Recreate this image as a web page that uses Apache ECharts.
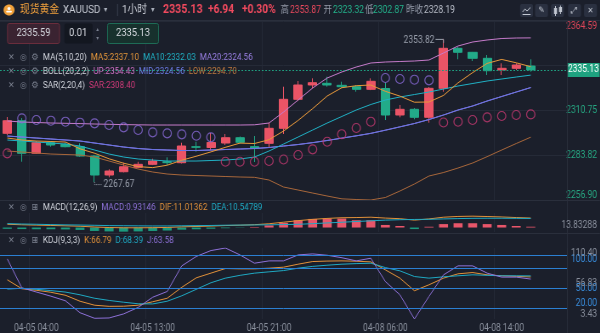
<!DOCTYPE html>
<html lang="zh-CN">
<head>
<meta charset="utf-8">
<title>现货黄金 XAUUSD 1小时</title>
<script src="https://cdn.jsdelivr.net/npm/echarts@6.0.0/dist/echarts.min.js"></script>
<style>
  html, body { margin: 0; padding: 0; background: #1b1f2b; overflow: hidden; width: 600px; height: 333px; }
  /* the terminal UI uses a condensed face: the chart is laid out wider and compressed horizontally */
  #chart { width: 706px; height: 333px; transform: scaleX(0.85); transform-origin: 0 0; }
</style>
</head>
<body>
<div id="chart"></div>
<script>
// ---------- data (hourly bars) ----------
const times = [
  '04-05 02:00','04-05 03:00','04-05 04:00','04-05 06:00','04-05 07:00','04-05 08:00','04-05 09:00',
  '04-05 10:00','04-05 11:00','04-05 12:00','04-05 13:00','04-05 14:00','04-05 15:00','04-05 16:00',
  '04-05 17:00','04-05 18:00','04-05 19:00','04-05 20:00','04-05 21:00','04-05 22:00','04-05 23:00',
  '04-06 00:00','04-06 01:00','04-06 02:00','04-06 03:00','04-06 04:00',
  '04-08 06:00','04-08 07:00','04-08 08:00','04-08 09:00','04-08 10:00','04-08 11:00','04-08 12:00',
  '04-08 13:00','04-08 14:00','04-08 15:00','04-08 16:00'
];
// [open, close, low, high]
const candles = [
  [2297.02,2304.60,2296.00,2306.83],[2304.60,2284.99,2279.93,2306.20],[2284.99,2291.36,2284.60,2292.40],
  [2291.36,2289.98,2288.96,2292.20],[2290.40,2288.96,2288.60,2291.36],[2288.96,2283.36,2283.00,2291.00],
  [2283.36,2271.93,2267.67,2284.00],[2271.93,2274.34,2270.54,2275.40],[2273.91,2276.92,2273.50,2279.33],
  [2276.56,2278.37,2276.00,2279.90],[2278.37,2280.35,2277.90,2281.74],[2279.93,2279.33,2277.94,2282.58],
  [2279.33,2289.38,2278.90,2291.36],[2288.96,2288.60,2285.95,2291.96],[2288.48,2291.48,2286.97,2297.20],
  [2291.18,2294.37,2290.00,2296.60],[2294.37,2291.60,2290.90,2295.10],[2289.00,2288.20,2279.75,2295.40],
  [2291.00,2300.03,2288.60,2303.40],[2300.03,2317.48,2296.60,2325.06],[2317.48,2326.08,2316.50,2328.49],
  [2326.08,2327.46,2324.10,2330.11],[2327.10,2326.08,2325.06,2331.07],[2325.90,2325.06,2324.50,2328.07],
  [2325.06,2323.49,2322.05,2326.08],[2323.49,2328.31,2323.00,2330.11],[2323.98,2308.03,2305.02,2327.46],
  [2308.03,2311.46,2306.65,2314.05],[2311.46,2306.65,2305.44,2312.20],[2306.65,2324.10,2303.40,2324.90],
  [2324.10,2348.16,2322.05,2353.82],[2348.16,2345.76,2341.55,2349.00],[2345.76,2342.15,2340.52,2346.00],
  [2342.15,2334.68,2332.10,2344.13],[2335.11,2336.13,2332.10,2339.14],[2336.13,2338.12,2335.10,2339.14],
  [2337.52,2335.13,2334.08,2341.55]
];
const ma5 = [2294.19,2292.99,2292.39,2292.09,2291.78,2287.69,2285.05,2281.68,2279.03,2276.98,2276.38,2277.83,
  2280.83,2283.24,2285.83,2288.59,2291.12,2290.88,2293.17,2298.40,2304.78,2311.88,2319.46,2324.46,2325.66,
  2326.08,2322.29,2319.40,2315.73,2315.85,2319.82,2327.40,2333.54,2339.08,2341.48,2339.44,2337.10];
const ma10 = [2292.99,2292.39,2291.78,2291.18,2290.58,2289.38,2286.97,2284.56,2282.76,2281.56,2280.95,2280.35,
  2280.35,2280.35,2280.65,2280.95,2281.56,2282.76,2286.37,2290.58,2294.79,2299.00,2303.20,2307.13,2311.04,
  2314.35,2317.06,2318.86,2320.36,2321.87,2323.67,2325.48,2326.98,2328.49,2329.69,2330.89,2332.03];
const bollMid = [2295.39,2294.79,2294.19,2293.59,2292.99,2292.39,2291.18,2289.98,2288.77,2287.87,2287.27,2286.97,
  2286.67,2286.67,2286.97,2287.27,2287.57,2287.87,2288.47,2289.38,2290.28,2291.40,2292.70,2294.10,2295.50,
  2297.00,2298.90,2300.90,2302.92,2305.32,2308.03,2311.04,2313.45,2316.45,2319.16,2321.86,2324.56];
const ma20 = bollMid.slice(); // MA20 is the Bollinger middle band
const bollUp = [2304.42,2303.82,2303.52,2303.22,2303.04,2302.86,2302.62,2302.44,2302.25,2302.13,2302.01,2302.01,
  2302.01,2302.01,2302.01,2302.01,2302.01,2302.13,2303.22,2309.83,2317.06,2324.28,2330.29,2333.90,2336.91,
  2339.32,2339.92,2340.22,2340.52,2341.12,2345.34,2349.55,2351.95,2353.16,2354.06,2354.36,2354.43];
const bollLow = [2286.37,2285.77,2285.17,2284.56,2284.26,2283.96,2282.76,2280.35,2277.94,2275.54,2273.73,2272.53,
  2271.93,2271.63,2271.33,2271.03,2270.73,2270.54,2268.92,2264.71,2262.90,2261.09,2259.29,2257.60,2257.20,
  2256.90,2258.40,2262.30,2266.52,2271.33,2273.43,2276.14,2279.15,2282.98,2286.97,2290.88,2294.70];
const sar = [2284.99,2306.05,2305.02,2304.60,2304.00,2303.40,2303.04,2302.01,2300.63,2299.00,2297.62,2297.02,
  2296.42,2295.57,2294.61,2279.93,2279.93,2279.93,2280.35,2281.26,2283.96,2287.39,2291.96,2296.48,2300.21,
  2304.00,2330.29,2329.69,2329.27,2328.91,2303.52,2304.00,2305.02,2306.65,2307.43,2308.03,2308.40];
const macdHist = [-1.5,-1.8,-2.0,-2.0,-2.2,-2.8,-4.0,-4.5,-4.8,-4.5,-4.0,-3.5,-2.5,-2.0,-1.4,-0.8,-0.3,0.6,2.5,
  5.5,8.5,10.0,10.5,10.5,8.5,8.5,3.0,1.8,-1.8,0.9,4.0,5.0,5.0,4.0,3.0,1.8,0.93146];
const dif = [3.8,3.2,2.8,2.4,2.0,1.5,0.6,0.0,-0.3,-0.3,-0.2,0.1,0.8,1.2,1.7,2.3,2.7,3.3,4.4,6.2,8.0,9.5,10.6,
  11.4,11.6,12.0,11.0,10.3,8.6,10.0,12.0,12.9,13.2,12.8,12.3,11.6,11.01362];
const dea = [4.55,4.1,3.8,3.4,3.1,2.9,2.6,2.25,2.1,1.95,1.8,1.85,2.05,2.2,2.4,2.7,2.85,3.0,3.15,3.45,3.75,4.5,
  5.35,6.15,7.0,7.8,8.6,9.1,9.4,9.55,10.0,10.4,10.7,10.8,10.8,10.7,10.54789];
const kLine = [62.5,49,46.7,43.7,39.2,30.2,24.2,22.5,22.7,24.2,29.4,34.7,51.2,65.5,72.5,79.5,79,79,80,81.5,86,
  90,90.7,91,90.5,89.5,77.5,65,46,55,65,71.5,73.4,70,68.5,67.7,66.79];
const dLine = [48.5,49.7,48.2,46.2,44,39.9,34.7,31.4,28.7,26.4,26.1,30.2,38.4,48.2,58,65,69.2,72.5,74.5,76.4,80,
  82.7,84.5,86,86.9,87.5,80.9,76,67.4,65,67,68.5,70,69.2,68.5,68.5,68.39];
const jLine = [94,50.4,44.1,37.8,30.9,12.9,4.5,5.0,11.1,20.9,36.2,44.9,83.5,97.7,106.5,110.4,100,87.5,91,91,100,
  101.5,99.5,95.8,91,95,59.9,39.9,3.43,37.4,70,83.5,83.5,72.5,66.5,66.5,63.58];

// axis ticks
const priceTicks = [2256.90, 2283.82, 2310.75, 2337.67, 2364.59];
const priceLabels = [2256.90, 2283.82, 2310.75, 2364.59];
const macdRange = [-5.2, 16.9];
const macdAxisLabel = '13.83288';
const kdjRange = [3.43, 110.40];
const kdjLevels = [20, 50, 80, 100];
const kdjMarks = [3.43, 56.83, 110.40];

// ---------- layout helpers ----------
const SX = 0.85;                 // horizontal compression applied to #chart
const X = (v) => v / SX;          // screen x -> chart x

const FONT = "Roboto,'Noto Sans',sans-serif";
const CJK = "Roboto,'Noto Sans CJK SC',sans-serif";
const SYM = "'DejaVu Sans',sans-serif";
const UP = '#ea5466', DOWN = '#22ab89';
const C = {
  ma5: '#e8993b', ma10: '#21b2c6', ma20: '#9a80e4',
  up: '#c77ccc', mid: '#6873e4', low: '#a9683c',
  sarUp: '#c43a72', sarDown: '#8a6ad8',
  dif: '#e3923a', dea: '#1faac4', macd: '#8f72da',
  k: '#e3923a', d: '#1faac4', j: '#8f72da',
  grid: '#252a37', label: '#8a909d'
};

const n = candles.length;
const lastClose = candles[n - 1][1];
const xData = times.concat(['', '']); // room right of the last bar
const labelEvery = (i) => i >= 2 && (i - 2) % 8 === 0;

function xAxis(gridIndex, showLabel) {
  return {
    type: 'category', gridIndex, data: xData, boundaryGap: true,
    axisLine: { show: false }, axisTick: { show: false },
    axisLabel: { show: showLabel, interval: (i) => labelEvery(i), color: C.label,
      fontSize: 10, fontFamily: FONT, margin: 4 },
    splitLine: { show: true, interval: (i) => labelEvery(i), lineStyle: { color: C.grid, width: 1 } }
  };
}

function line(name, data, color, xi, yi, z) {
  return { name, type: 'line', data, xAxisIndex: xi, yAxisIndex: yi, symbol: 'none',
    lineStyle: { color, width: 1 }, itemStyle: { color }, z: z || 3, silent: true };
}

const chart = echarts.init(document.getElementById('chart'), null, { renderer: 'canvas' });

// ---------- page chrome (header, inputs, indicator legends) ----------
const measureCtx = document.createElement('canvas').getContext('2d');
function textWidth(s, font) { measureCtx.font = font; return measureCtx.measureText(s).width * SX; }

function txt(x, y, s, fill, size, family, weight, align) {
  return { type: 'text', x: X(x), y, silent: true, z: 100,
    style: { text: s, fill, font: (weight || 'normal') + ' ' + size + 'px ' + family,
      align: align || 'left', verticalAlign: 'middle', textAlign: align || 'left', textVerticalAlign: 'middle' } };
}
function rect(x, y, w, h, fill, stroke, r) {
  return { type: 'rect', silent: true, z: 99, shape: { x: X(x), y, width: X(w), height: h, r: r || 0 },
    style: { fill, stroke: stroke || null, lineWidth: stroke ? 1 : 0 } };
}
function seg(x1, y1, x2, y2, stroke, dash) {
  return { type: 'line', silent: true, z: 99, shape: { x1: X(x1), y1, x2: X(x2), y2 },
    style: { stroke, lineWidth: 1, lineDash: dash || null } };
}
// a run of coloured text items laid out left to right
function row(y, items, startX, size, gap) {
  const out = [];
  let x = startX;
  items.forEach(([s, color]) => {
    out.push(txt(x, y, s, color, size, FONT));
    x += textWidth(s, 'normal ' + size + 'px ' + FONT) + gap;
  });
  return out;
}

const fmt2 = (v) => v.toFixed(2);
const chrome = [
  // panel separators
  seg(0, 20.5, 600, 20.5, '#2a2f3c'),
  seg(0, 200.5, 600, 200.5, '#2a2f3c'),
  seg(0, 233.5, 600, 233.5, '#2a2f3c'),
  seg(567.5, 20, 567.5, 333, '#2a2f3c'),
  // header
  { type: 'ellipse', silent: true, z: 99, shape: { cx: X(9), cy: 10, rx: X(5.5), ry: 5.5 }, style: { fill: '#f1a13a' } },
  { type: 'ellipse', silent: true, z: 100, shape: { cx: X(9), cy: 8.6, rx: X(1.6), ry: 1.6 }, style: { fill: '#fff' } },
  { type: 'rect', silent: true, z: 100, shape: { x: X(6.2), y: 10.8, width: X(5.6), height: 1.8, r: 0.8 }, style: { fill: '#fff' } },
  txt(20, 10, '现货黄金', '#f3a23d', 11.5, CJK),
  txt(63, 10, 'XAUUSD', '#c9cdd6', 11.5, FONT),
  txt(104, 10, '▾', '#aab0bc', 8, SYM),
  seg(117.5, 4, 117.5, 16, '#3b4150'),
  txt(122, 10, '1小时', '#c9cdd6', 11.5, CJK),
  txt(151, 10, '▾', '#aab0bc', 8, SYM),
  txt(163, 10, fmt2(lastClose), '#f04a5e', 12.5, FONT, 'bold'),
  txt(208, 10, '+6.94', '#f04a5e', 12, FONT, 'bold'),
  txt(242, 10, '+0.30%', '#f04a5e', 12, FONT, 'bold'),
  txt(280.5, 10, '高', '#959baa', 10, CJK),
  txt(290, 10, '2353.87', '#ef4a5e', 10, FONT),
  txt(323.5, 10, '开', '#959baa', 10, CJK),
  txt(333, 10, '2323.32', '#24b38c', 10, FONT),
  txt(365, 10, '低', '#959baa', 10, CJK),
  txt(373, 10, '2302.87', '#24b38c', 10, FONT),
  txt(406, 10, '昨收', '#959baa', 10, CJK),
  txt(424, 10, '2328.19', '#b7bcc7', 10, FONT),
  // toolbar buttons
  rect(520, 4, 13, 13, '#2a3040', null, 2), rect(535, 4, 13, 13, '#2a3040', null, 2),
  rect(551, 4, 13, 13, '#2a3040', null, 2), rect(568, 4, 13, 13, '#2a3040', null, 2),
  rect(584, 4, 13, 13, '#2a3040', null, 2),
  { type: 'polyline', silent: true, z: 100, shape: { points: [[X(522.5), 12], [X(525), 9], [X(527), 11], [X(530.5), 7.5]] },
    style: { stroke: '#c3c8d2', lineWidth: 1, fill: null } },
  seg(522.5, 14.5, 530.5, 14.5, '#c3c8d2'),
  txt(541.5, 10.5, '✎', '#c3c8d2', 9, SYM, 'normal', 'center'),
  rect(554, 8, 3, 6, '#c3c8d2'), seg(555.5, 6, 555.5, 16, '#c3c8d2'),
  rect(559, 7, 3, 5, '#c3c8d2'), seg(560.5, 5.5, 560.5, 14, '#c3c8d2'),
  txt(574.5, 10.5, '⤢', '#c3c8d2', 9, SYM, 'normal', 'center'),
  txt(590.5, 10.5, '✕', '#c3c8d2', 8, SYM, 'normal', 'center'),
  // order inputs
  rect(7.5, 23.5, 52, 20, '#3a2331', '#6a2d3c', 2),
  txt(33.5, 33.5, '2335.59', '#d8dbe2', 11, FONT, 'normal', 'center'),
  rect(64.5, 23.5, 28, 20, '#131720', null, 2),
  txt(69, 33.5, '0.01', '#d8dbe2', 11, FONT),
  txt(97.5, 29, '▴', '#7d8392', 6, SYM, 'normal', 'center'),
  txt(97.5, 38.5, '▾', '#7d8392', 6, SYM, 'normal', 'center'),
  rect(107.5, 23.5, 51, 20, '#17312d', '#1e6b56', 2),
  txt(133, 33.5, fmt2(lastClose), '#d8dbe2', 11, FONT, 'normal', 'center')
];

function legendIcons(y, third) {
  return [
    txt(8, y, '✕', '#7c8291', 9, SYM),
    txt(20, y, '◎', '#7c8291', 9, SYM),
    txt(31.5, y, third, '#7c8291', 9.5, SYM)
  ];
}
const L = (a) => a[a.length - 1];
const LS = 9.5, GAP = 4, NAME = '#d3d6de';
chrome.push(
  ...legendIcons(58, '⚙'),
  ...row(58, [['MA(5,10,20)', NAME], ['MA5:' + fmt2(L(ma5)), C.ma5],
    ['MA10:' + fmt2(L(ma10)), C.ma10], ['MA20:' + fmt2(L(ma20)), C.ma20]], 43, LS, GAP),
  ...legendIcons(71.5, '⚙'),
  ...row(71.5, [['BOLL(20,2,2)', NAME], ['UP:' + fmt2(L(bollUp)), '#d070c6'],
    ['MID:' + fmt2(L(bollMid)), '#6d7ce6'], ['LOW:' + fmt2(L(bollLow)), '#bf7a3f']], 43, LS, GAP),
  ...legendIcons(85.5, '⚙'),
  ...row(85.5, [['SAR(2,20,4)', NAME], ['SAR:' + fmt2(L(sar)), '#d23b7a']], 43, LS, GAP),
  ...legendIcons(208, '⊞'),
  ...row(208, [['MACD(12,26,9)', NAME], ['MACD:' + L(macdHist).toFixed(5), C.macd],
    ['DIF:' + L(dif).toFixed(5), C.dif], ['DEA:' + L(dea).toFixed(5), C.dea]], 43, LS, GAP),
  ...legendIcons(241, '⊞'),
  ...row(241, [['KDJ(9,3,3)', NAME], ['K:' + fmt2(L(kLine)), C.k],
    ['D:' + fmt2(L(dLine)), C.d], ['J:' + fmt2(L(jLine)), C.j]], 43, LS, GAP),
  txt(597, 225, macdAxisLabel, '#8a909d', 10, FONT, 'normal', 'right')
);

// ---------- chart ----------
const sarData = sar.map((v, i) => ({
  value: v,
  itemStyle: { borderColor: v > candles[i][1] ? C.sarDown : C.sarUp }
}));

function kdjAxis(values, color) {
  return { type: 'value', gridIndex: 2, position: 'right', min: kdjRange[0], max: kdjRange[1],
    axisLine: { show: false }, axisTick: { show: false, customValues: values },
    axisLabel: { customValues: values, align: 'right', margin: X(30), fontSize: 10, fontFamily: FONT,
      showMinLabel: true, showMaxLabel: true, hideOverlap: false, color,
      formatter: (v) => v.toFixed(2),
      verticalAlignMaxLabel: 'top', verticalAlignMinLabel: 'bottom' },
    splitLine: { show: false } };
}

const option = {
  backgroundColor: '#1b1f2b',
  animation: false,
  grid: [
    { left: X(-1), right: X(33), top: 21, height: 179 },
    { left: X(-1), right: X(33), top: 213, height: 19 },
    { left: X(-1), right: X(33), top: 248, height: 71.3 }
  ],
  xAxis: [xAxis(0, false), xAxis(1, false), xAxis(2, true)],
  yAxis: [
    { type: 'value', gridIndex: 0, position: 'right', min: priceTicks[0], max: priceTicks[priceTicks.length - 1],
      axisLine: { show: false },
      axisTick: { show: false, customValues: priceTicks },
      axisLabel: { customValues: priceLabels, align: 'right', margin: X(30), fontSize: 10, fontFamily: FONT,
        showMinLabel: true, showMaxLabel: true,
        formatter: (v) => v.toFixed(2),
        color: (v) => (Math.abs(v - priceTicks[priceTicks.length - 1]) < 0.01 ? '#e0475a' : '#27a883'),
        verticalAlignMaxLabel: 'top', verticalAlignMinLabel: 'bottom' },
      splitLine: { show: true, lineStyle: { color: C.grid } } },
    { type: 'value', gridIndex: 1, position: 'right', min: macdRange[0], max: macdRange[1],
      axisLine: { show: false }, axisTick: { show: false }, axisLabel: { show: false }, splitLine: { show: false } },
    kdjAxis(kdjLevels, '#3a8fe0'),
    kdjAxis(kdjMarks, '#8a909d')
  ],
  series: [
    { name: 'K线', type: 'candlestick', data: candles, xAxisIndex: 0, yAxisIndex: 0, barWidth: X(9), z: 2,
      itemStyle: { color: UP, color0: DOWN, borderColor: UP, borderColor0: DOWN, borderWidth: 1 },
      markLine: { silent: true, symbol: ['none', 'none'], animation: false,
        data: [{ yAxis: lastClose }],
        lineStyle: { color: '#1f9d7f', type: [2, 2], width: 1 },
        label: { position: 'end', distance: 0, formatter: () => fmt2(lastClose),
          backgroundColor: '#1ea27f', color: '#ffffff', padding: [2, 1, 2, 1],
          fontSize: 10, fontFamily: FONT } } },
    line('MA20', ma20, C.ma20, 0, 0),
    line('BOLL UP', bollUp, C.up, 0, 0),
    line('BOLL LOW', bollLow, C.low, 0, 0),
    line('BOLL MID', bollMid, C.mid, 0, 0),
    line('MA10', ma10, C.ma10, 0, 0),
    line('MA5', ma5, C.ma5, 0, 0),
    { name: 'SAR', type: 'scatter', data: sarData, xAxisIndex: 0, yAxisIndex: 0, symbol: 'circle',
      symbolSize: [X(8.3), 9], z: 4, silent: true,
      itemStyle: { color: 'rgba(0,0,0,0)', borderWidth: 1.2 } },
    { name: 'MACD', type: 'bar', xAxisIndex: 1, yAxisIndex: 1, barWidth: X(9), silent: true,
      data: macdHist.map((v) => ({ value: v, itemStyle: { color: v >= 0 ? '#e8566a' : '#1c9a7e' } })) },
    line('DIF', dif, C.dif, 1, 1),
    line('DEA', dea, C.dea, 1, 1),
    Object.assign(line('K', kLine, C.k, 2, 2), {
      markLine: { silent: true, symbol: ['none', 'none'], animation: false, label: { show: false },
        lineStyle: { color: '#2b7fd2', width: 1, type: 'solid' },
        data: kdjLevels.map((v) => ({ yAxis: v })) } }),
    line('D', dLine, C.d, 2, 2),
    line('J', jLine, C.j, 2, 2)
  ],
  graphic: chrome
};
chart.setOption(option);

// high / low annotations placed through the price scale
let hiIdx = 0, loIdx = 0;
candles.forEach((c, i) => {
  if (c[3] > candles[hiIdx][3]) hiIdx = i;
  if (c[2] < candles[loIdx][2]) loIdx = i;
});
const hiVal = candles[hiIdx][3], loVal = candles[loIdx][2];
const hp = chart.convertToPixel({ xAxisIndex: 0, yAxisIndex: 0 }, [hiIdx, hiVal]);
const lp = chart.convertToPixel({ xAxisIndex: 0, yAxisIndex: 0 }, [loIdx, loVal]);
const noteColor = '#9aa0ad';
function noteText(px, py, s, align) {
  return { type: 'text', x: px, y: py, silent: true, z: 100,
    style: { text: s, fill: noteColor, font: '10px ' + FONT, align, verticalAlign: 'middle',
      textAlign: align, textVerticalAlign: 'middle' } };
}
chart.setOption({
  graphic: chrome.concat([
    { type: 'polyline', silent: true, z: 100,
      shape: { points: [[hp[0] - X(8), hp[1] + 0.5], [hp[0], hp[1] + 0.5], [hp[0], hp[1] + 4]] },
      style: { stroke: noteColor, lineWidth: 1, fill: null } },
    noteText(hp[0] - X(9), hp[1] + 1.5, hiVal.toFixed(2), 'right'),
    { type: 'polyline', silent: true, z: 100,
      shape: { points: [[lp[0], lp[1]], [lp[0], lp[1] + 2.5], [lp[0] + X(7), lp[1] + 2.5]] },
      style: { stroke: noteColor, lineWidth: 1, fill: null, lineDash: [1, 1] } },
    noteText(lp[0] + X(9), lp[1] + 2, loVal.toFixed(2), 'left')
  ])
});
</script>
</body>
</html>
